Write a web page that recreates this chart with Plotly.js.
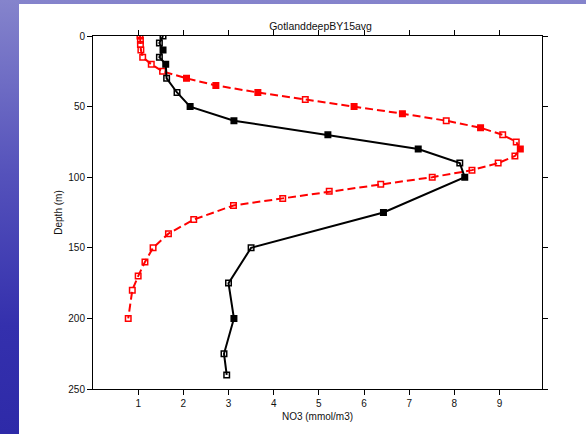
<!DOCTYPE html>
<html>
<head>
<meta charset="utf-8">
<script src="https://cdn.plot.ly/plotly-3.0.1.min.js"></script>
<style>
  html, body { margin:0; padding:0; width:586px; height:434px; overflow:hidden; }
  body { background: linear-gradient(to bottom, #8584cc 0%, #5552bb 40%, #3430ad 75%, #2e2aa8 100%); position:relative; }
  #white { position:absolute; left:19px; top:4px; width:567px; height:430px; background:#ffffff; }
  #chart { position:absolute; left:0; top:0; width:586px; height:434px; }
</style>
</head>
<body>
<div id="white"></div>
<div id="chart"></div>
<script>
// Black series (solid line)
const blackDepth = [0, 5, 10, 15, 20, 30, 40, 50, 60, 70, 80, 90, 100, 125, 150, 175, 200, 225, 240];
const blackNO3   = [1.55, 1.47, 1.55, 1.47, 1.61, 1.63, 1.86, 2.15, 3.12, 5.2, 7.2, 8.12, 8.23, 6.43, 3.5, 3.0, 3.12, 2.9, 2.96];
const blackSymbols = ['square-open','square-open','square','square-open','square','square-open','square-open','square','square','square','square','square-open','square','square','square-open','square-open','square','square-open','square-open'];

// Red series (dashed line)
const redDepth = [0, 3, 6, 10, 15, 20, 25, 30, 35, 40, 45, 50, 55, 60, 65, 70, 75, 80, 85, 90, 95, 100, 105, 110, 115, 120, 130, 140, 150, 160, 170, 180, 200];
const redNO3   = [1.04, 1.05, 1.05, 1.06, 1.1, 1.29, 1.54, 2.07, 2.72, 3.65, 4.7, 5.78, 6.85, 7.82, 8.58, 9.07, 9.37, 9.46, 9.34, 8.97, 8.39, 7.51, 6.37, 5.23, 4.2, 3.11, 2.23, 1.67, 1.33, 1.15, 1.0, 0.87, 0.78];
const redFilledDepths = [30, 35, 40, 50, 55, 65, 80];
const redSymbols = redDepth.map(d => (redFilledDepths.includes(d) ? 'square' : 'square-open'));

const xTicks = [1, 2, 3, 4, 5, 6, 7, 8, 9];
const yTicks = [0, 50, 100, 150, 200, 250];

const traces = [
  {
    x: redNO3, y: redDepth, type: 'scatter', mode: 'lines+markers',
    line: { color: '#ff0000', width: 2, dash: '8px,4px' },
    marker: { symbol: redSymbols, size: 5.5, color: '#ff0000', line: { color: '#ff0000', width: 1.5 } },
    hoverinfo: 'skip'
  },
  {
    x: blackNO3, y: blackDepth, type: 'scatter', mode: 'lines+markers',
    line: { color: '#000000', width: 2 },
    marker: { symbol: blackSymbols, size: 5.5, color: '#000000', line: { color: '#000000', width: 1.5 } },
    hoverinfo: 'skip'
  }
];

const axisFont = { family: 'Liberation Sans, Arial, sans-serif', size: 10, color: '#111111' };

const layout = {
  width: 586, height: 434,
  margin: { l: 93, r: 44, t: 36, b: 45, pad: 0 },
  paper_bgcolor: 'rgba(0,0,0,0)',
  plot_bgcolor: '#ffffff',
  showlegend: false,
  title: {
    text: 'GotlanddeepBY15avg',
    font: { family: 'Liberation Sans, Arial, sans-serif', size: 10.5, color: '#111111' },
    x: 0.547, xanchor: 'center', y: 0.940, yanchor: 'middle'
  },
  xaxis: {
    range: [0, 9.94], tickvals: xTicks, ticktext: xTicks.map(String),
    showgrid: false, zeroline: false,
    showline: true, linecolor: '#000000', linewidth: 1, mirror: 'ticks',
    ticks: 'outside', ticklen: 5, tickcolor: '#000000', tickwidth: 1,
    tickfont: axisFont,
    title: { text: 'NO3 (mmol/m3)', font: axisFont, standoff: 4 }
  },
  yaxis: {
    range: [250, 0], tickvals: yTicks, ticktext: yTicks.map(String),
    showgrid: false, zeroline: false,
    showline: true, linecolor: '#000000', linewidth: 1, mirror: 'ticks',
    ticks: 'outside', ticklen: 5, tickcolor: '#000000', tickwidth: 1,
    tickfont: axisFont,
    title: { text: 'Depth (m)', font: axisFont, standoff: 3 }
  }
};

Plotly.newPlot('chart', traces, layout, { staticPlot: true, displayModeBar: false });
</script>
</body>
</html>
